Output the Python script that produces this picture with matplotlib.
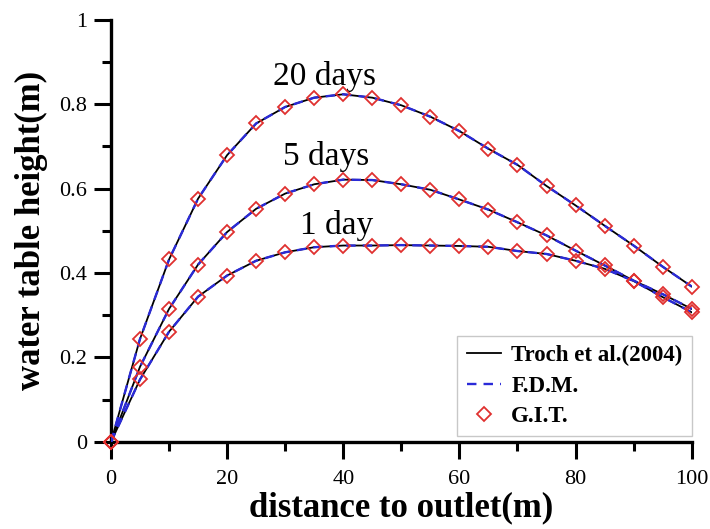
import numpy as np
import matplotlib
matplotlib.use('Agg')
import matplotlib.pyplot as plt
from matplotlib.ticker import MultipleLocator, FuncFormatter

# distance to outlet (m)
dist = [0, 5, 10, 15, 20, 25, 30, 35, 40, 45, 50, 55, 60, 65, 70, 75, 80, 85, 90, 95, 100]

# water table height (m)
h_20days = [0, 0.244, 0.432, 0.576, 0.679, 0.754, 0.793, 0.815, 0.823, 0.815, 0.797,
            0.770, 0.736, 0.694, 0.656, 0.606, 0.560, 0.512, 0.465, 0.415, 0.368]
h_5days = [0, 0.178, 0.315, 0.420, 0.497, 0.552, 0.588, 0.610, 0.621, 0.620, 0.610,
           0.597, 0.574, 0.550, 0.520, 0.489, 0.453, 0.418, 0.382, 0.350, 0.315]
h_1day = [0, 0.148, 0.261, 0.344, 0.394, 0.429, 0.449, 0.461, 0.465, 0.465, 0.466,
          0.465, 0.464, 0.462, 0.452, 0.445, 0.429, 0.410, 0.381, 0.343, 0.307]

curves = [h_1day, h_5days, h_20days]
curve_names = ['1 day', '5 days', '20 days']
label_pos = [(38.9, 0.493), (37.0, 0.655), (36.7, 0.845)]

plt.rcParams['font.family'] = ['Liberation Serif', 'DejaVu Serif']

fig = plt.figure(figsize=(7.10, 5.29), dpi=100)
ax = fig.add_axes([0.1563, 0.1645, 0.8179, 0.7986])

for i, h in enumerate(curves):
    ax.plot(dist, h, color='black', lw=1.3, zorder=2,
            label='Troch et al.(2004)' if i == 0 else None)
    ax.plot(dist, h, color='#2a2ad8', lw=1.7, ls=(0, (4, 3)), zorder=3,
            label='F.D.M.' if i == 0 else None)
    ax.plot(dist, h, ls='none', marker='D', ms=7.3, mfc='none', mec='#e0302f',
            mew=1.3, zorder=4, clip_on=False,
            label='G.I.T.' if i == 0 else None)
    ax.text(label_pos[i][0], label_pos[i][1], curve_names[i], fontsize=24,
            ha='center', va='baseline')

ax.set_xlim(0, 100)
ax.set_ylim(0, 1)
ax.xaxis.set_major_locator(MultipleLocator(20))
ax.xaxis.set_minor_locator(MultipleLocator(10))
ax.yaxis.set_major_locator(MultipleLocator(0.2))
ax.yaxis.set_minor_locator(MultipleLocator(0.1))
ax.yaxis.set_major_formatter(FuncFormatter(lambda v, p: '%g' % v))

for s in ['top', 'right']:
    ax.spines[s].set_visible(False)
for s in ['left', 'bottom']:
    ax.spines[s].set_linewidth(2.4)
ax.tick_params(which='major', direction='out', length=12, width=2.2,
               labelsize=16, pad=5)
ax.tick_params(axis='x', which='major', pad=8)
ax.tick_params(which='minor', direction='out', length=6.5, width=2.2)

ax.set_xlabel('distance to outlet(m)', fontsize=25, fontweight='bold', labelpad=2)
ax.set_ylabel('water table height(m)', fontsize=25, fontweight='bold', labelpad=8)

leg = ax.legend(loc='lower right', bbox_to_anchor=(1.0, 0.014), borderaxespad=0,
                prop={'size': 16.5, 'weight': 'bold'}, fancybox=False,
                edgecolor='#c8c8c8', framealpha=1, handlelength=1.5,
                handletextpad=0.45, labelspacing=0.4, borderpad=0.4)
leg.get_frame().set_linewidth(1.0)

fig.savefig('out.png', dpi=100)
